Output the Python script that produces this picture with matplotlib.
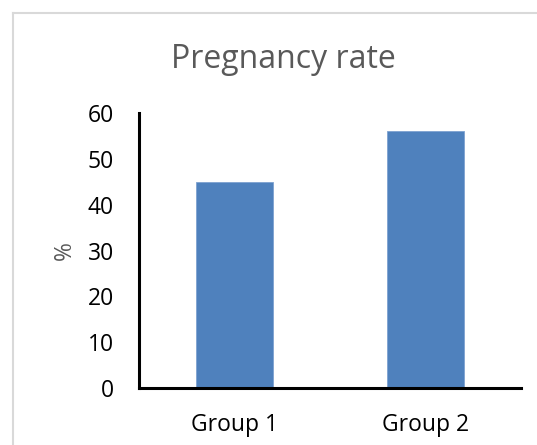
import matplotlib.pyplot as plt
from matplotlib.lines import Line2D

groups = ['Group 1', 'Group 2']
rates = [45, 56]
yticks = [0, 10, 20, 30, 40, 50, 60]

plt.rcParams['font.family'] = ['Open Sans', 'DejaVu Sans']

W, H = 537, 445
fig = plt.figure(figsize=(W / 100, H / 100), dpi=100)
ax = fig.add_axes([139 / W, (H - 388) / H, (521 - 139) / W, (388 - 113) / H])

ax.bar(range(len(groups)), rates, width=0.4, color='#4F81BD',
       edgecolor='#7EA2D0', linewidth=0.6, zorder=2)
ax.set_xlim(-0.5, 1.5)
ax.set_ylim(0, 60)
ax.set_yticks(yticks)
ax.set_xticks(range(len(groups)))
ax.set_xticklabels(groups)

for s in ['top', 'right']:
    ax.spines[s].set_visible(False)
for s in ['left', 'bottom']:
    ax.spines[s].set_linewidth(2.2)
    ax.spines[s].set_color('black')
ax.tick_params(axis='y', length=0, pad=18, labelsize=16.5, colors='black')
ax.tick_params(axis='x', length=0, pad=18, labelsize=16.5, colors='black')

ax.set_ylabel('%', fontsize=16.5, color='#595959', labelpad=8)
fig.text(283 / W, 1 - 59 / H, 'Pregnancy rate', ha='center', va='center',
         fontsize=23, color='#595959')

# chart frame (only top and left edges visible)
fig.add_artist(Line2D([13 / W, 1], [1 - 13 / H, 1 - 13 / H], color='#D9D9D9',
                      linewidth=1.5, transform=fig.transFigure))
fig.add_artist(Line2D([13 / W, 13 / W], [0, 1 - 13 / H], color='#D9D9D9',
                      linewidth=1.5, transform=fig.transFigure))

fig.savefig('out.png', dpi=100)
plt.close(fig)
